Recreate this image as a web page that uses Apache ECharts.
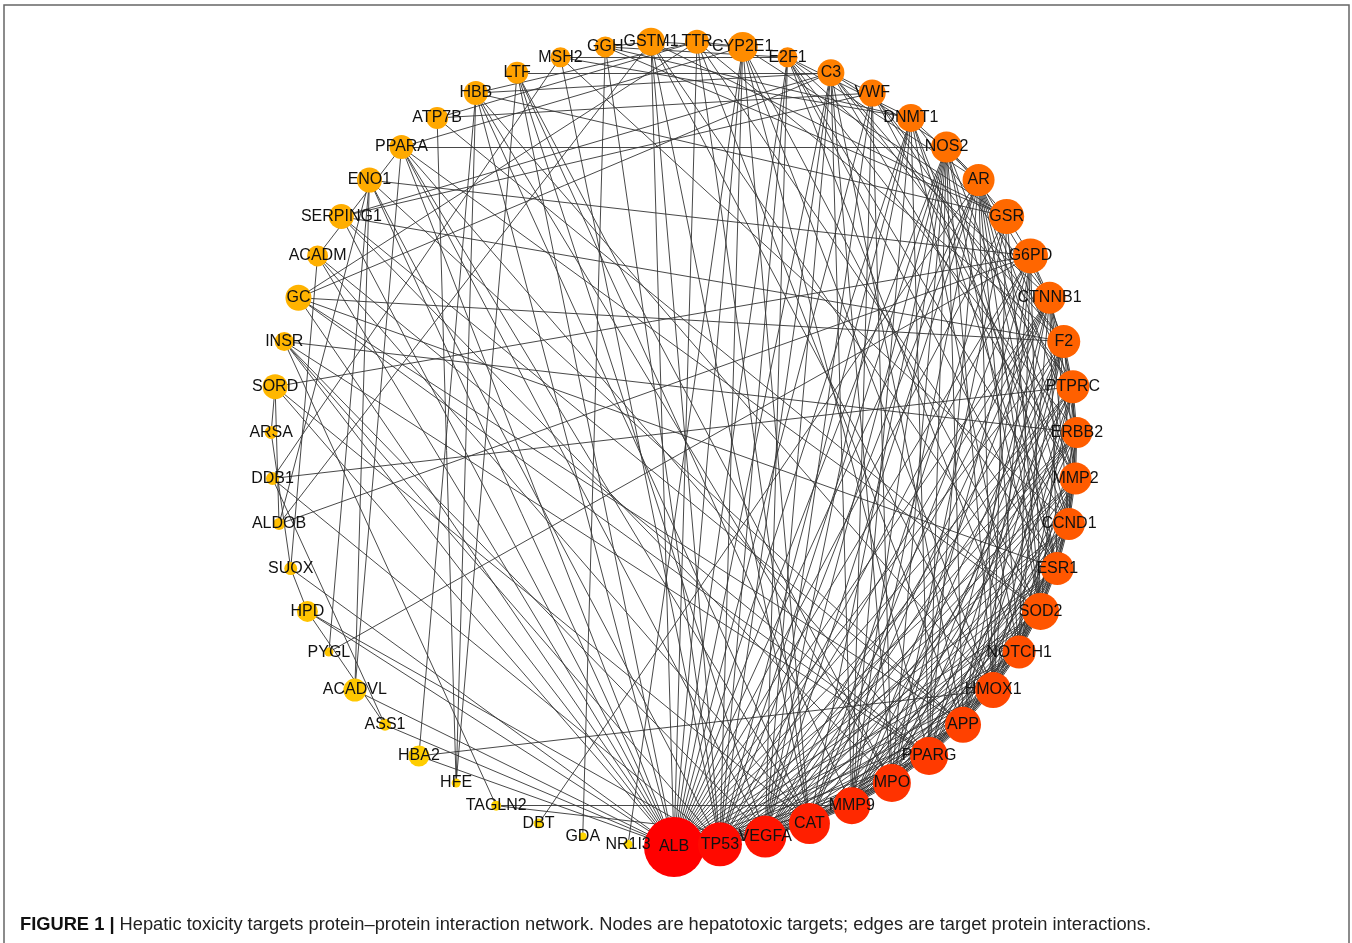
<!DOCTYPE html>
<html><head><meta charset="utf-8">
<script src="https://cdn.jsdelivr.net/npm/echarts@6/dist/echarts.min.js"></script>
<style>html,body{margin:0;padding:0;background:#fff}#c{width:1352px;height:943px}</style>
</head><body><div id="c"></div>
<script>
// Nodes in circular order (sorted by degree), starting at the bottom and running counter-clockwise
const nodeNames = ["ALB","TP53","VEGFA","CAT","MMP9","MPO","PPARG","APP","HMOX1","NOTCH1","SOD2","ESR1","CCND1","MMP2","ERBB2","PTPRC","F2","CTNNB1","G6PD","GSR","AR","NOS2","DNMT1","VWF","C3","E2F1","CYP2E1","TTR","GSTM1","GGH","MSH2","LTF","HBB","ATP7B","PPARA","ENO1","SERPING1","ACADM","GC","INSR","SORD","ARSA","DDB1","ALDOB","SUOX","HPD","PYGL","ACADVL","ASS1","HBA2","HFE","TAGLN2","DBT","GDA","NR1I3"];
// Node diameters (px)
const nodeSizes = [60,44,42,41,37,38,38,36,36,33,37,33,32,32,31,33,33,32,35,35,32,31,28,27,27,20,30,24,28,21,20,22,24,22,24,25,25,21,26,19,25,13,13,12,13,21,9,23,12,21,9,10,10,8,9];
// Interactions (each line: node followed by its partners)
const adjacency = [
"ALB: TP53 VEGFA CAT MMP9 MPO PPARG APP HMOX1 NOTCH1 SOD2 ESR1 CCND1 MMP2 ERBB2 PTPRC F2 CTNNB1 G6PD GSR AR NOS2 DNMT1 VWF C3 E2F1 CYP2E1 TTR GSTM1 LTF HBB PPARA SERPING1 GC INSR ACADM ENO1 HPD ACADVL HBA2 SUOX ASS1 SORD",
"TP53: VEGFA CAT MMP9 MPO PPARG APP HMOX1 NOTCH1 SOD2 ESR1 CCND1 MMP2 ERBB2 PTPRC CTNNB1 G6PD AR NOS2 DNMT1 E2F1 MSH2 C3 CYP2E1 GSTM1 ENO1 INSR DDB1 HPD GGH",
"VEGFA: CAT MMP9 MPO PPARG APP HMOX1 NOTCH1 SOD2 ESR1 CCND1 MMP2 ERBB2 PTPRC F2 CTNNB1 AR NOS2 VWF DNMT1 E2F1 LTF INSR PPARA TAGLN2 C3",
"CAT: MMP9 MPO PPARG APP HMOX1 SOD2 ESR1 G6PD GSR NOS2 CYP2E1 GSTM1 TTR PPARA ACADM HBB SORD ERBB2 NOTCH1 CTNNB1",
"MMP9: MPO PPARG APP HMOX1 NOTCH1 SOD2 ESR1 CCND1 MMP2 ERBB2 PTPRC F2 CTNNB1 AR NOS2 VWF C3 LTF DNMT1 TAGLN2",
"MPO: PPARG APP HMOX1 SOD2 PTPRC F2 G6PD GSR NOS2 C3 LTF VWF HBB SERPING1 ESR1 CCND1",
"PPARG: APP HMOX1 NOTCH1 SOD2 ESR1 CCND1 MMP2 ERBB2 CTNNB1 AR NOS2 PPARA INSR ACADM CYP2E1 GC DNMT1 F2",
"APP: HMOX1 NOTCH1 SOD2 ESR1 MMP2 F2 CTNNB1 G6PD NOS2 TTR C3 ENO1 GC SERPING1 PTPRC",
"HMOX1: NOTCH1 SOD2 ESR1 MMP2 PTPRC F2 G6PD GSR NOS2 AR HBB HBA2 CYP2E1 GSTM1 CCND1",
"NOTCH1: SOD2 ESR1 CCND1 MMP2 ERBB2 PTPRC CTNNB1 AR DNMT1 E2F1 G6PD",
"SOD2: ESR1 CCND1 MMP2 F2 G6PD GSR NOS2 CYP2E1 GSTM1 ATP7B PPARA AR",
"ESR1: CCND1 MMP2 ERBB2 CTNNB1 AR DNMT1 E2F1 NOS2 TTR GC",
"CCND1: MMP2 ERBB2 CTNNB1 AR E2F1 DNMT1 PTPRC MSH2",
"MMP2: ERBB2 PTPRC F2 CTNNB1 AR NOS2 VWF C3",
"ERBB2: PTPRC CTNNB1 AR E2F1 F2 INSR",
"PTPRC: F2 CTNNB1 AR C3 VWF DDB1",
"F2: VWF C3 SERPING1 GC TTR G6PD",
"CTNNB1: AR DNMT1 E2F1 G6PD",
"G6PD: GSR ENO1 ALDOB PYGL SORD",
"GSR: GSTM1 CYP2E1 NOS2 HBB GGH",
"AR: DNMT1 E2F1 NOS2 DBT",
"NOS2: PPARA C3",
"DNMT1: E2F1 MSH2 GGH",
"VWF: C3 SERPING1 ATP7B",
"C3: SERPING1 LTF GC HBB",
"E2F1: MSH2 GGH",
"CYP2E1: GSTM1 TTR NR1I3 PPARA",
"TTR: GC HBB",
"GSTM1: GGH ALDOB",
"GGH: GDA",
"MSH2: DDB1",
"LTF: HFE",
"HBB: HBA2 HFE",
"ATP7B: TTR HFE",
"PPARA: ACADM ACADVL",
"ENO1: PYGL ALDOB ACADVL",
"ACADM: SUOX",
"INSR: TAGLN2",
"SORD: ARSA ALDOB",
"ARSA: SUOX",
"DDB1: ASS1",
"HPD: SUOX ASS1"
];
const captionBold = "FIGURE 1 |";
const captionText = " Hepatic toxicity targets protein\u2013protein interaction network. Nodes are hepatotoxic targets; edges are target protein interactions.";

// colour ramp (style): red -> orange -> yellow along the degree order
const hueStops = [[0,0],[5,12],[10,20],[18,24],[22,27],[26,33],[32,39],[40,43],[54,51]];
function hueAt(i){
  for(let k=1;k<hueStops.length;k++){
    const a=hueStops[k-1], b=hueStops[k];
    if(i<=b[0]) return a[1]+(b[1]-a[1])*(i-a[0])/(b[0]-a[0]);
  }
  return hueStops[hueStops.length-1][1];
}
function hueHex(h){ // hsl(h,100%,50%) for h in [0,60]
  const g=Math.round(255*h/60);
  return '#ff'+g.toString(16).padStart(2,'0')+'00';
}

const nodes = nodeNames.map((n,i)=>({
  name:n, value:[1,i], symbolSize:nodeSizes[i],
  itemStyle:{color:hueHex(hueAt(i))}
}));
const seen = new Set(); const links = [];
adjacency.forEach(line=>{
  const [src, rest] = line.split(':');
  rest.trim().split(/\s+/).forEach(t=>{
    const key=[src,t].sort().join('|');
    if(!seen.has(key)){ seen.add(key); links.push({source:src, target:t}); }
  });
});

const FONT='Liberation Sans, Arial, sans-serif';
const chart = echarts.init(document.getElementById('c'));
chart.setOption({
  animation:false,
  backgroundColor:'#ffffff',
  polar:{center:[674,444], radius:403},
  angleAxis:{type:'category', data:nodeNames, startAngle:270, clockwise:false, boundaryGap:false,
    axisLine:{show:false}, axisTick:{show:false}, axisLabel:{show:false}, splitLine:{show:false}},
  radiusAxis:{type:'value', min:0, max:1, axisLine:{show:false}, axisTick:{show:false}, axisLabel:{show:false}, splitLine:{show:false}},
  series:[{
    type:'graph', coordinateSystem:'polar', polarIndex:0,
    symbol:'circle', data:nodes, links:links,
    label:{show:true, position:'inside', color:'#111', fontSize:16, fontFamily:FONT},
    lineStyle:{color:'#333', width:0.9, opacity:1, curveness:0},
    emphasis:{disabled:true}
  }],
  graphic:[
    {type:'polyline', shape:{points:[[4,943],[4,5],[1349,5],[1349,943]]}, style:{stroke:'#666', lineWidth:1.5, fill:null}},
    {type:'text', left:20, top:916, style:{
      text:'{b|'+captionBold+'}'+captionText,
      rich:{b:{fontWeight:'bold', fontSize:18.3, fontFamily:FONT, fill:'#111'}},
      fontSize:18.3, fontFamily:FONT, fill:'#222'}}
  ]
});
</script></body></html>
